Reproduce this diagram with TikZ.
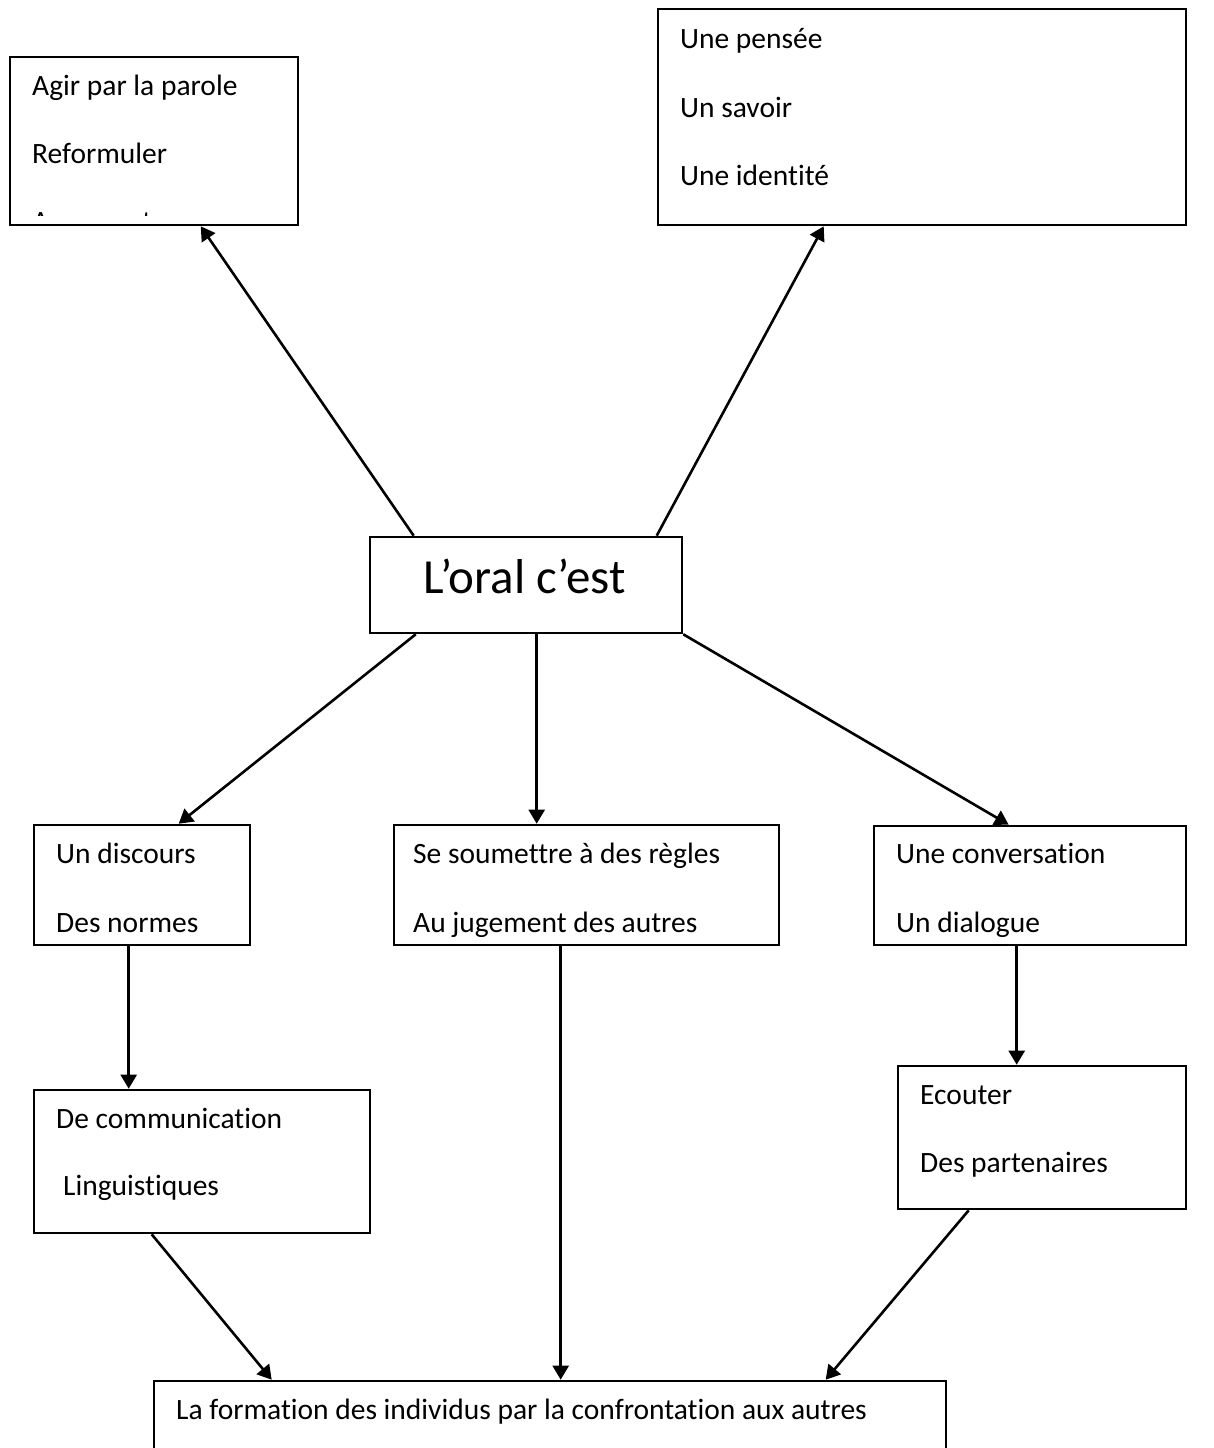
\documentclass[tikz,border=0pt]{standalone}
\usepackage{fontspec}
\setmainfont{Carlito}[Ligatures=NoCommon]
\usetikzlibrary{arrows.meta,calc}

\tikzset{
  box/.style={draw, rectangle, line width=2.6pt, inner sep=0pt},
  lbl/.style={anchor=base west, inner sep=0pt, font=\fontsize{29.5}{35}\selectfont},
  big/.style={anchor=base west, inner sep=0pt, font=\fontsize{49}{58}\selectfont},
  arr/.style={line width=2.6pt, -{Triangle[length=14pt,width=16pt]}},
}

\begin{document}
\begin{tikzpicture}[x=1pt,y=-1pt]
\useasboundingbox (0,0) rectangle (1213,1448);

% boxes
\node[box, minimum width=288pt, minimum height=168pt] (A)   at (154,141)    {};
\node[box, minimum width=528pt, minimum height=216pt] (B)   at (922,117)    {};
\node[box, minimum width=312pt, minimum height=96pt]  (ctr) at (526,585)    {};
\node[box, minimum width=216pt, minimum height=120pt] (C1)  at (142,885)    {};
\node[box, minimum width=385pt, minimum height=120pt] (C2)  at (586.5,885)  {};
\node[box, minimum width=312pt, minimum height=119pt] (C3)  at (1030,885.5) {};
\node[box, minimum width=336pt, minimum height=143pt] (D1)  at (202,1161.5) {};
\node[box, minimum width=288pt, minimum height=143pt] (D3)  at (1042,1137.5){};
\node[box, minimum width=792pt, minimum height=89pt]  (E)   at (550,1425.5) {};

% texts
\node[lbl] (a1) at (32,95)  {Agir par la parole};
\node[lbl] (a2) at (32,163) {Reformuler};
\begin{scope}
  \clip (A.north west) rectangle (298,215.5);
  \node[lbl] (a3) at (32,231) {Argumenter};
\end{scope}

\node[lbl] (b1) at (680,48)  {Une pensée};
\node[lbl] (b2) at (680,117) {Un savoir};
\node[lbl] (b3) at (680,185) {Une identité};

\node[big] (o1) at (423,593) {L’oral c’est};

\node[lbl] (c11) at (56,863) {Un discours};
\node[lbl] (c12) at (56,932) {Des normes};

\begin{scope}
  \clip (C2.north west) rectangle (1186,936);
  \node[lbl] (c21) at (413,863) {Se soumettre à des règles};
  \node[lbl] (c22) at (413,932) {Au jugement des autres};
  \node[lbl] (c31) at (896,863) {Une conversation};
  \node[lbl] (c32) at (896,932) {Un dialogue};
\end{scope}

\node[lbl] (d11) at (56,1128) {De communication};
\node[lbl] (d12) at (63,1195) {Linguistiques};

\node[lbl] (d31) at (920,1104) {Ecouter};
\node[lbl] (d32) at (920,1172) {Des partenaires};

\node[lbl] (e1) at (176,1419) {La formation des individus par la confrontation aux autres};

% connectors
\draw[arr] ($(ctr.north west)+(45,0)$)  -- ($(A.south west)+(192,0)$);
\draw[arr] ($(ctr.north west)+(288,0)$) -- ($(B.south west)+(167,0)$);
\draw[arr] ($(ctr.south west)+(47,0)$)  -- ($(C1.north west)+(146,0)$);
\coordinate (cm) at ($(ctr.south west)+(168,0)$);
\draw[arr] (cm) -- (cm |- C2.north);
\draw[arr] (ctr.south east) -- ($(C3.north west)+(136,0)$);

\coordinate (c1o) at ($(C1.south west)+(96,0)$);
\draw[arr] (c1o) -- (c1o |- D1.north);
\coordinate (c3o) at ($(C3.south west)+(144,0)$);
\draw[arr] (c3o) -- (c3o |- D3.north);
\coordinate (c2o) at ($(C2.south west)+(168,0)$);
\draw[arr] (c2o) -- (c2o |- E.north);

\draw[arr] ($(D1.south west)+(119,0)$) -- ($(E.north west)+(119,0)$);
\draw[arr] ($(D3.south west)+(72,0)$)  -- ($(E.north west)+(673,0)$);
\end{tikzpicture}
\end{document}
